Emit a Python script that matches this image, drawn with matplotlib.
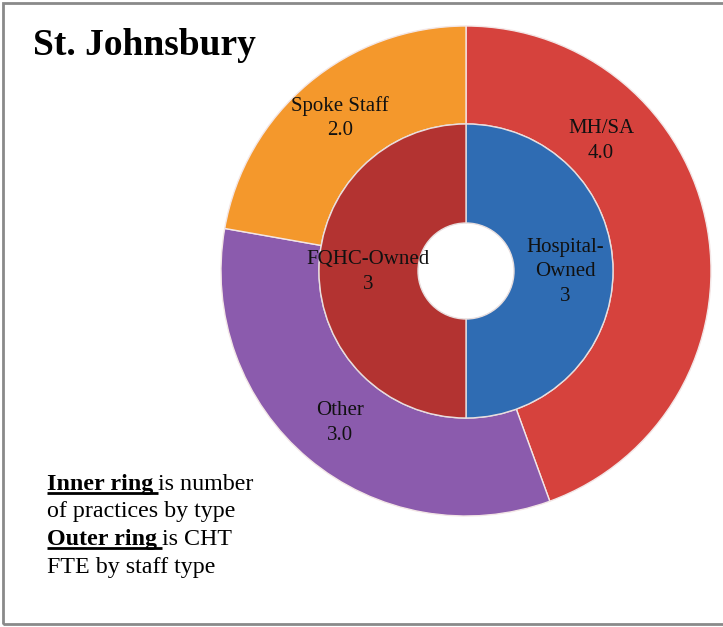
import numpy as np
import matplotlib
matplotlib.use("Agg")
import matplotlib.pyplot as plt
from matplotlib.patches import Rectangle

W, H = 723, 627

# data
outer_labels = ["MH/SA", "Other", "Spoke Staff"]
outer_values = [4.0, 3.0, 2.0]
inner_labels = ["Hospital-\nOwned", "FQHC-Owned"]
inner_values = [3, 3]

outer_colors = ["#D6423D", "#8B5BAD", "#F4982C"]
inner_colors = ["#2F6CB3", "#B33331"]

# label centres in pixels (layout only)
outer_pos = [(601, 141), (340, 423), (340, 118)]
inner_pos = [(565, 272), (368, 272)]

plt.rcParams["font.family"] = ["Liberation Serif", "DejaVu Serif"]

fig = plt.figure(figsize=(W / 100, H / 100), dpi=100)
ax = fig.add_axes([0, 0, 1, 1])


def py(y):
    return H - y


cx, cy = 466, 271
R_out, R_mid, R_hole = 245, 147, 48

ax.pie(outer_values, colors=outer_colors, startangle=90, counterclock=False,
       center=(cx, py(cy)), radius=R_out, frame=True,
       wedgeprops=dict(width=R_out - R_mid, edgecolor="#f3e6e6", linewidth=1.0))
ax.pie(inner_values, colors=inner_colors, startangle=90, counterclock=False,
       center=(cx, py(cy)), radius=R_mid, frame=True,
       wedgeprops=dict(width=R_mid - R_hole, edgecolor="#e8dede", linewidth=1.0))
ax.set_xlim(0, W)
ax.set_ylim(0, H)
ax.set_aspect("equal")
ax.axis("off")

for lab, val, (x, y) in zip(outer_labels, outer_values, outer_pos):
    ax.text(x, py(y), f"{lab}\n{val:.1f}", ha="center", va="center",
            fontsize=15, linespacing=1.4, color="#111111")
for lab, val, (x, y) in zip(inner_labels, inner_values, inner_pos):
    ax.text(x, py(y), f"{lab}\n{val}", ha="center", va="center",
            fontsize=15, linespacing=1.4, color="#111111")

# title
ax.text(33, py(55), "St. Johnsbury", fontsize=27, fontweight="bold",
        ha="left", va="baseline")

# note with underlined bold parts
fig.canvas.draw()
renderer = fig.canvas.get_renderer()
lines = [("Inner ring", "is number"), (None, "of practices by type"),
         ("Outer ring", "is CHT"), (None, "FTE by staff type")]
base_y = [490, 517, 545, 573]
x0 = 47
fs = 17.3
for (bold, rest), by in zip(lines, base_y):
    if bold is None:
        ax.text(x0, py(by), rest, fontsize=fs, ha="left", va="baseline")
        continue
    t = ax.text(x0, py(by), bold, fontsize=fs, fontweight="bold",
                ha="left", va="baseline")
    bb = t.get_window_extent(renderer)
    x_end = x0 + bb.width + 5
    ax.plot([x0, x_end], [py(by + 3), py(by + 3)], color="black", lw=2,
            solid_capstyle="butt")
    ax.text(x_end, py(by), rest, fontsize=fs, ha="left", va="baseline")

# frame
fig.patches.append(Rectangle((3, 3), W + 10, H - 6, transform=None,
                             fill=False, edgecolor="#8a8a8a", linewidth=2))

fig.savefig("out.png", dpi=100)
